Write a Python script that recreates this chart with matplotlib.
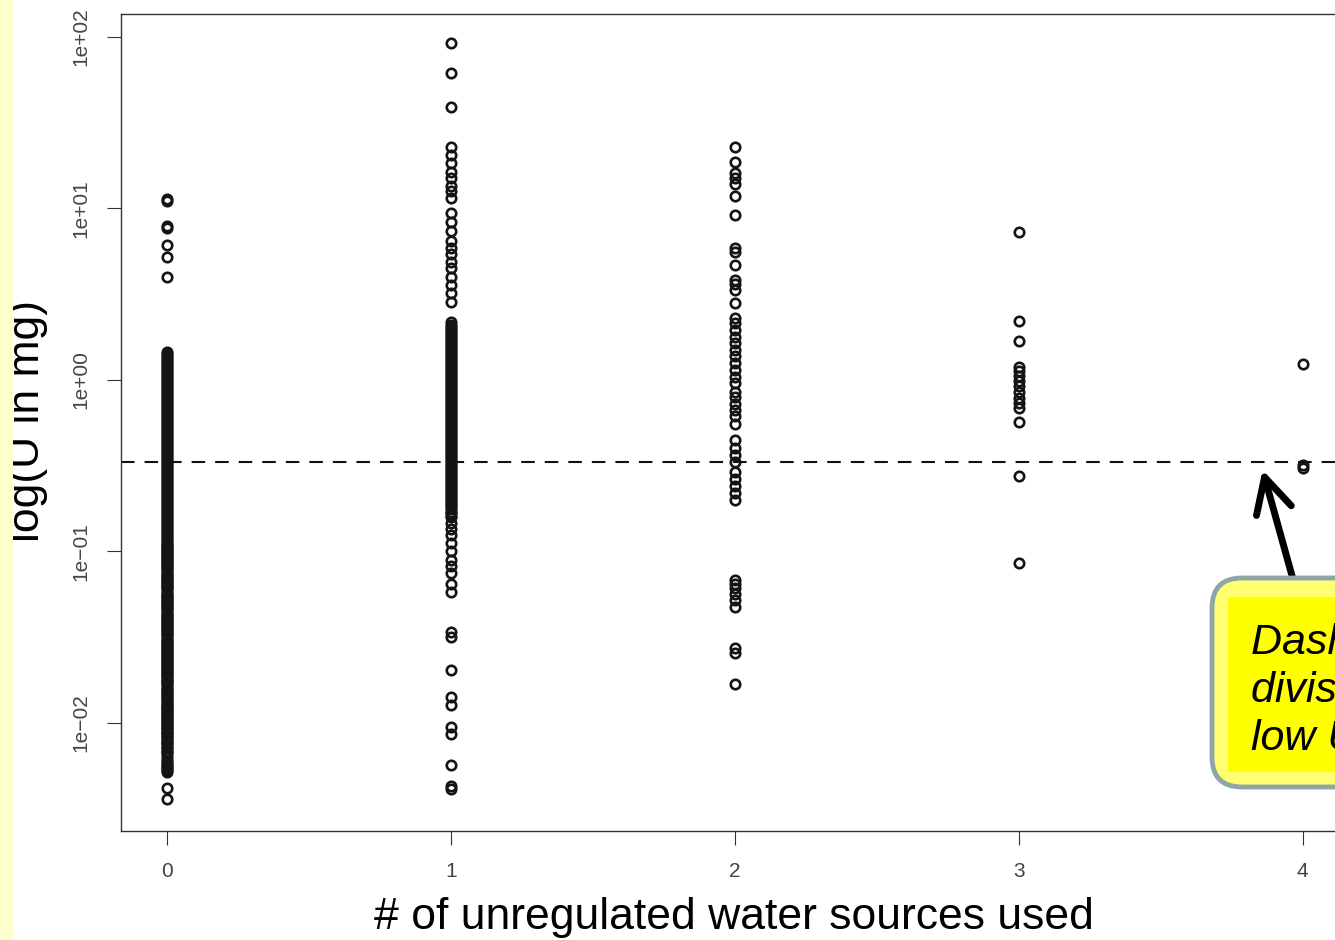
import numpy as np
import matplotlib.pyplot as plt
from matplotlib.patches import FancyBboxPatch, Rectangle
from matplotlib.transforms import IdentityTransform

plt.rcParams['font.family'] = ['Liberation Sans', 'DejaVu Sans']

# U intake (mg) for each number of unregulated water sources used
u_0 = [11.4, 11.1, 7.9, 7.7, 6.1, 5.2, 4.0,
       1.46, 1.42, 1.38, 1.345, 1.31, 1.275, 1.24, 1.21, 1.18, 1.145, 1.115,
       1.085, 1.055, 1.03, 1.0, 0.975, 0.95, 0.925, 0.90, 0.875, 0.853, 0.83,
       0.808, 0.787, 0.766, 0.746, 0.726, 0.707, 0.688, 0.67, 0.652, 0.635,
       0.618, 0.602, 0.586, 0.57, 0.555, 0.54, 0.526, 0.512, 0.498, 0.485,
       0.472, 0.46, 0.448, 0.436, 0.424, 0.413, 0.402, 0.391, 0.381, 0.371,
       0.361, 0.351, 0.342, 0.333, 0.324, 0.315, 0.307, 0.299, 0.291, 0.283,
       0.276, 0.268, 0.261, 0.254, 0.248, 0.241, 0.235, 0.228, 0.222, 0.216,
       0.211, 0.205, 0.2, 0.194, 0.189, 0.184, 0.179, 0.175, 0.17, 0.165,
       0.161, 0.157, 0.153, 0.149, 0.145, 0.141, 0.137, 0.133, 0.13, 0.126,
       0.123, 0.12,
       0.116, 0.1135, 0.111, 0.109, 0.107, 0.105, 0.103, 0.101, 0.099, 0.097,
       0.095, 0.0933, 0.0915, 0.0898, 0.088, 0.0863, 0.0847, 0.0831, 0.0815,
       0.08, 0.0784, 0.0754, 0.074, 0.0725, 0.0711, 0.0698, 0.0685, 0.0671,
       0.0658, 0.0646, 0.0633, 0.0621, 0.0609, 0.0597, 0.0575, 0.0564, 0.0553,
       0.0542, 0.0532, 0.0522, 0.0512, 0.0502, 0.0492, 0.0482, 0.0473, 0.0464,
       0.0455, 0.0438, 0.043, 0.0421, 0.0413, 0.0405, 0.0397, 0.039, 0.0382,
       0.0375, 0.0368, 0.0361, 0.0354, 0.0347, 0.034, 0.0334, 0.0327, 0.0321,
       0.0309, 0.0303, 0.0297, 0.0291, 0.0286, 0.028, 0.0275, 0.0269, 0.0264,
       0.0259, 0.0254, 0.025, 0.0245, 0.024, 0.0235, 0.023, 0.0226, 0.0222,
       0.0218, 0.0214, 0.021, 0.0206, 0.0202, 0.0198, 0.0194, 0.019, 0.0187,
       0.0183, 0.0179, 0.0176, 0.0173, 0.0169, 0.0166, 0.016, 0.0157, 0.0154,
       0.0151, 0.0148, 0.0145, 0.0142, 0.0139, 0.0137, 0.0134, 0.0131, 0.0128,
       0.0126, 0.0124, 0.0122, 0.0119, 0.0117, 0.0115, 0.0113, 0.011, 0.0108,
       0.0106, 0.0104, 0.0102, 0.01, 0.0098, 0.0096, 0.0094, 0.0093, 0.0091,
       0.0089, 0.0087, 0.0086, 0.0084, 0.0083, 0.0081, 0.0079, 0.0077,
       0.0076, 0.0074, 0.0072, 0.0071, 0.0069, 0.0068, 0.0066, 0.0063,
       0.0061, 0.0059, 0.0058, 0.0056, 0.0055, 0.0054, 0.0053, 0.0052,
       0.0042, 0.0036]

u_1 = [92, 62, 39, 22.8, 20.5, 18.5, 16.3, 15.1, 13.5, 12.6, 11.5, 9.4, 8.3,
       7.4, 6.5, 5.9, 5.4, 4.9, 4.5, 4.0, 3.6, 3.2, 2.85, 2.18,
       2.09, 2.03, 1.98, 1.93, 1.88, 1.83, 1.78, 1.73, 1.69, 1.64, 1.6, 1.56,
       1.515, 1.475, 1.435, 1.4, 1.36, 1.325, 1.29, 1.255, 1.22, 1.19, 1.16,
       1.13, 1.1, 1.07, 1.04, 1.01, 0.985, 0.96, 0.935, 0.91, 0.885, 0.862,
       0.839, 0.817, 0.795, 0.774, 0.753, 0.733, 0.714, 0.695, 0.676, 0.658,
       0.641, 0.624, 0.607, 0.591, 0.575, 0.56, 0.545, 0.531, 0.517, 0.503,
       0.49, 0.477, 0.464, 0.452, 0.44, 0.428, 0.417, 0.406, 0.395, 0.384,
       0.374, 0.364, 0.354, 0.345, 0.336, 0.327, 0.318, 0.31, 0.301, 0.293,
       0.286, 0.278, 0.271, 0.263, 0.256, 0.25, 0.243, 0.237, 0.23, 0.224,
       0.218, 0.212, 0.207, 0.201, 0.196, 0.191, 0.186, 0.181, 0.176, 0.171,
       0.167, 0.162, 0.158,
       0.147, 0.135, 0.125, 0.112, 0.10, 0.089, 0.082, 0.075, 0.065, 0.058,
       0.034, 0.0317, 0.0204, 0.0142, 0.0127, 0.0095, 0.0086, 0.0057, 0.0043,
       0.0041]

u_2 = [22.8, 18.7, 16.1, 15.1, 13.9, 11.8, 9.2, 5.9, 5.6, 4.7, 3.83, 3.63,
       3.35, 2.81, 2.30, 2.15, 1.96, 1.78, 1.64, 1.50, 1.38, 1.26, 1.14, 1.04,
       0.96, 0.85, 0.80, 0.72, 0.67, 0.62, 0.55, 0.447, 0.40, 0.365, 0.333,
       0.291, 0.265, 0.241, 0.219, 0.20, 0.068, 0.0646, 0.0612, 0.0565, 0.0521,
       0.0475, 0.0274, 0.0256, 0.0169]

u_3 = [7.3, 2.21, 1.69, 1.19, 1.13, 1.055, 0.987, 0.923, 0.851, 0.785, 0.734,
       0.687, 0.569, 0.275, 0.0857]

u_4 = [1.24, 0.32, 0.305]

groups = [u_0, u_1, u_2, u_3, u_4]
cutoff = 0.333

x_ticks = [0, 1, 2, 3, 4]
y_ticks = [0.01, 0.1, 1, 10, 100]
y_tick_labels = ['1e\u221202', '1e\u221201', '1e+00', '1e+01', '1e+02']

fig = plt.figure(figsize=(13.35, 9.4), dpi=100)
ax = fig.add_axes([121/1335, 1 - 831/940, (1348 - 121)/1335, (831 - 14)/940])

for k, vals in enumerate(groups):
    ax.plot(np.full(len(vals), x_ticks[k]), vals, 'o', ls='none',
            mfc='none', mec='#141414', ms=6.8, mew=1.9)

ax.axhline(cutoff, color='#111111', lw=1.5, ls=(0, (6.5, 4.8)))

ax.set_yscale('log')
ax.set_xlim(-0.162, 4.16)
ax.set_ylim(10**-2.630, 10**2.134)
ax.yaxis.set_minor_locator(plt.NullLocator())
ax.set_xticks(x_ticks)
ax.set_xticklabels([str(v) for v in x_ticks])
ax.set_yticks(y_ticks)
ax.set_yticklabels(y_tick_labels, rotation=90, va='center')
ax.tick_params(length=10, width=0.8, pad=12, labelsize=15,
               labelcolor='#444444', color='#333333')
for s in ax.spines.values():
    s.set_linewidth(1.0)
    s.set_color('#333333')

fig.text(39/1335, 1 - 421/940, 'log(U in mg)', rotation=90,
         rotation_mode='anchor', ha='center', va='baseline', fontsize=32)
fig.text(734/1335, 1 - 929/940, '# of unregulated water sources used',
         ha='center', va='baseline', fontsize=32)

# yellow slide strip on the left
fig.add_artist(Rectangle((0, 0), 13/1335, 1, transform=fig.transFigure,
                         fc='#FFFFCC', ec='none', zorder=10))

# call-out box (runs off the right edge, as in the slide)
fig.add_artist(FancyBboxPatch((1212, 940 - 787), 320, 209,
                              boxstyle='round,pad=0,rounding_size=30',
                              transform=IdentityTransform(),
                              fc='#FFFF70', ec='#8DA6AA', lw=3.5, zorder=5))
fig.add_artist(Rectangle((1228, 940 - 772), 300, 175,
                         transform=IdentityTransform(),
                         fc='#FFFF00', ec='none', zorder=6))
box_lines = ['Dashed line is the', 'division between high &', 'low U intake']
for i, line in enumerate(box_lines):
    fig.text(1251/1335, 1 - (654 + 48*i)/940, line, style='italic',
             fontsize=31, va='baseline', zorder=7)

ax.annotate('', xy=(3.859, 0.299), xytext=(3.965, 0.070),
            arrowprops=dict(arrowstyle='->,head_length=2.5,head_width=1.3',
                            lw=5, color='black', shrinkA=0, shrinkB=0),
            annotation_clip=False, zorder=8)

plt.savefig('out.png', dpi=100)
